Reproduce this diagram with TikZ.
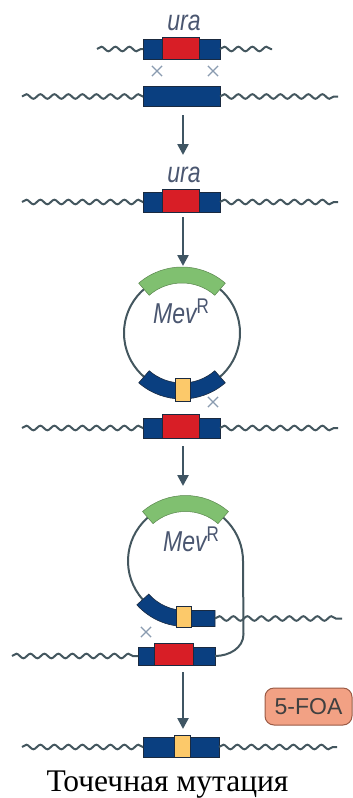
\documentclass[tikz,border=0pt]{standalone}
\usepackage{fontspec}
\usepackage{graphicx}
\setmainfont{Liberation Serif}
\newfontfamily\lsans{Liberation Sans}
\usetikzlibrary{arrows.meta,decorations.pathmorphing,shapes.misc,calc}
\definecolor{dnablue}{HTML}{0A3F80}
\definecolor{urared}{HTML}{D81E26}
\definecolor{mevgreen}{HTML}{80C070}
\definecolor{mutyellow}{HTML}{FCC96A}
\definecolor{wavec}{HTML}{44575F}
\definecolor{arrowc}{HTML}{3F5563}
\definecolor{boxline}{HTML}{1A2A40}
\definecolor{labelc}{HTML}{4A5670}
\definecolor{crossc}{HTML}{8A9BB0}
\definecolor{foafill}{HTML}{F2A184}
\definecolor{foaline}{HTML}{9A5A45}
\tikzset{
  wave/.style={draw=wavec, line width=2pt, decorate, decoration={snake, segment length=14pt, amplitude=2.3pt}},
  bluebox/.style={rectangle, fill=dnablue, draw=boxline, line width=0.6pt, inner sep=0pt, outer sep=0pt},
  redbox/.style={rectangle, fill=urared, draw=boxline, line width=0.6pt, inner sep=0pt, outer sep=0pt},
  yelbox/.style={rectangle, fill=mutyellow, draw=boxline, line width=0.6pt, inner sep=0pt, outer sep=0pt, minimum width=15pt, minimum height=23pt},
  greenarc/.style={fill=mevgreen, draw=mevgreen!70!black, line width=0.5pt},
  bluearc/.style={fill=dnablue, draw=boxline, line width=0.6pt},
  plasmid/.style={draw=wavec, line width=2pt},
  crossmk/.style={cross out, draw=crossc, line width=1.2pt, minimum size=9pt, inner sep=0pt},
  flowarrow/.style={draw=arrowc, line width=2.5pt, -{Triangle[width=11pt,length=11pt]}},
  genelabel/.style={font=\lsans\itshape\fontsize{23}{23}\selectfont, text=labelc, anchor=base, inner sep=0pt},
  foabox/.style={rectangle, rounded corners=9pt, fill=foafill, draw=foaline, line width=1pt, minimum width=87pt, minimum height=37pt, font=\lsans\fontsize{23}{23}\selectfont, text=black!75},
}
\newcommand{\tallt}[1]{\scalebox{1}[1.25]{#1}}
\newcommand{\mevlabel}{\tallt{{\itshape Mev}\raisebox{8pt}{\fontsize{17}{17}\selectfont R}}}
\begin{document}
\begin{tikzpicture}[x=1pt,y=-1pt]
\useasboundingbox (0,0) rectangle (353,798);

% ---- panel 1: donor fragment and chromosome
\node[genelabel] (ura1) at (184,30) {\tallt{ura}};
\node[bluebox, minimum width=77pt, minimum height=20pt] (b1) at (181.5,49) {};
\node[redbox, minimum width=37pt, minimum height=22pt] (r1) at (181,48) {};
\draw[wave] (97,49) -- (b1.west);
\draw[wave] (b1.east) -- (272,49);
\node[crossmk] (x1) at (157,71) {};
\node[crossmk] (x2) at (213,71) {};
\node[bluebox, minimum width=77pt, minimum height=20pt] (b2) at (181.5,96.5) {};
\draw[wave] (22,96.5) -- (b2.west);
\draw[wave] (b2.east) -- (338,96.5);

\coordinate (a1s) at (183,115);
\coordinate (a1e) at (183,155);
\draw[flowarrow] (a1s) -- (a1e);

% ---- panel 2: ura integrated
\node[genelabel] (ura2) at (184,182) {\tallt{ura}};
\node[bluebox, minimum width=77pt, minimum height=20pt] (b3) at (181.5,202) {};
\node[redbox, minimum width=37pt, minimum height=23pt] (r3) at (181,200.5) {};
\draw[wave] (22,202) -- (b3.west);
\draw[wave] (b3.east) -- (338,202);

\coordinate (a2s) at (183,217);
\coordinate (a2e) at (183,266);
\draw[flowarrow] (a2s) -- (a2e);

% ---- panel 3: plasmid
\coordinate (c4) at (182,333);
\draw[plasmid] (c4) circle[radius=58pt];
\path[greenarc] ($(c4)+(49:66pt)$) arc[start angle=49, end angle=131, radius=66pt]
   -- ($(c4)+(131:50pt)$) arc[start angle=131, end angle=49, radius=50pt] -- cycle;
\path[bluearc] ($(c4)+(229:66pt)$) arc[start angle=229, end angle=311, radius=66pt]
   -- ($(c4)+(311:50pt)$) arc[start angle=311, end angle=229, radius=50pt] -- cycle;
\node[yelbox] (y4) at (183,390) {};
\node[genelabel, font=\lsans\fontsize{23}{23}\selectfont] (mev4) at (181,323) {\mevlabel};
\node[crossmk] (x3) at (213,402) {};
\node[bluebox, minimum width=77pt, minimum height=20pt] (b4) at (181.5,428) {};
\node[redbox, minimum width=37pt, minimum height=24pt] (r4) at (181,426) {};
\draw[wave] (22,428) -- (b4.west);
\draw[wave] (b4.east) -- (338,428);

\coordinate (a3s) at (183,446);
\coordinate (a3e) at (183,486);
\draw[flowarrow] (a3s) -- (a3e);

% ---- panel 4: pairing / integration
\coordinate (c5) at (185.5,561);
\node[bluebox, minimum width=77pt, minimum height=18pt] (b5) at (176.5,656) {};
\node[redbox, minimum width=39pt, minimum height=22pt] (r5) at (174,654) {};
\draw[wave] (12,656) -- (b5.west);
\coordinate (rd) at (243.5,634);
\draw[plasmid] ($(c5)+(222:57.5pt)$) arc[start angle=222, end angle=0, radius=57.5pt]
   -- (rd) to[out=-90, in=0] (b5.east);
\path[greenarc] ($(c5)+(49:65.5pt)$) arc[start angle=49, end angle=131, radius=65.5pt]
   -- ($(c5)+(131:49.5pt)$) arc[start angle=131, end angle=49, radius=49.5pt] -- cycle;
\path[bluearc] ($(c5)+(222:65.5pt)$) arc[start angle=222, end angle=270, radius=65.5pt]
   -- (215,626.5) -- (215,610.5) -- ($(c5)+(270:49.5pt)$)
   arc[start angle=270, end angle=222, radius=49.5pt] -- cycle;
\coordinate (p5e) at (215,618.5);
\draw[wave] (p5e) -- (342,618.5);
\node[yelbox, minimum height=21pt] (y5) at (183.5,616.5) {};
\node[genelabel, font=\lsans\fontsize{23}{23}\selectfont] (mev5) at (191,551) {\mevlabel};
\node[crossmk] (x4) at (146,632) {};

\coordinate (a4s) at (183,672);
\coordinate (a4e) at (183,729);
\draw[flowarrow] (a4s) -- (a4e);
\node[foabox] (foa) at (308.5,706.5) {5-FOA};

% ---- panel 5: point mutation
\node[bluebox, minimum width=76pt, minimum height=20pt] (b6) at (181,747) {};
\node[yelbox, minimum width=16pt, minimum height=22pt] (y6) at (182.5,746.5) {};
\draw[wave] (22,747) -- (b6.west);
\draw[wave] (b6.east) -- (337,747);

\node[anchor=base, inner sep=0pt, font=\fontsize{31.5}{31.5}\selectfont] (cap) at (167.5,791) {Точечная мутация};
\end{tikzpicture}
\end{document}
